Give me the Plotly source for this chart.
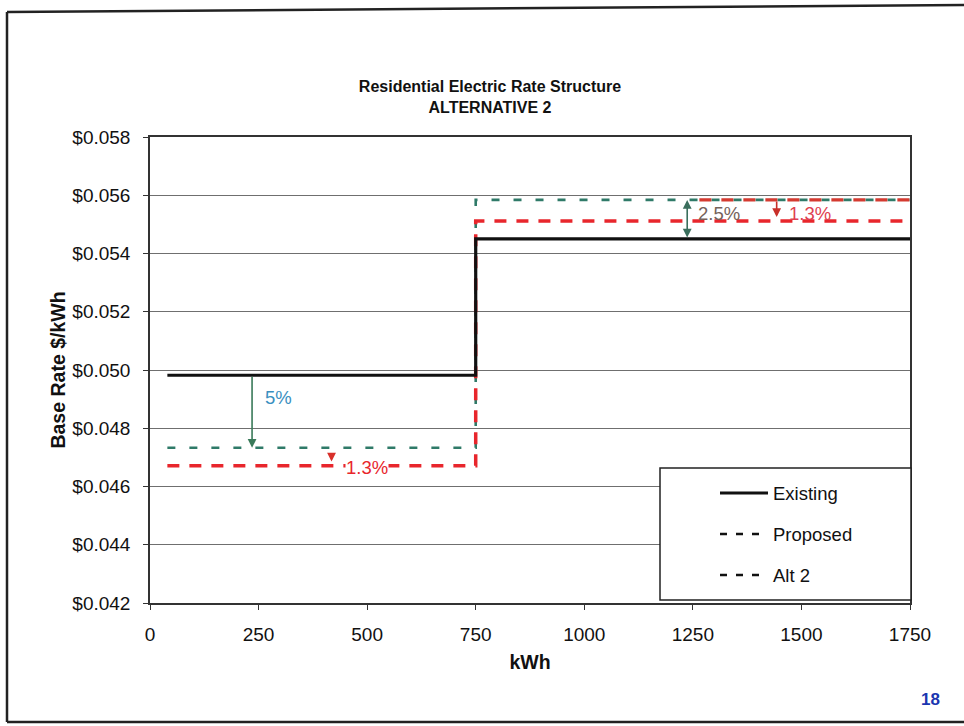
import plotly.graph_objects as go

# ---- data ----
existing_x = [40, 750, 750, 1750]
existing_y = [0.04982, 0.04982, 0.05450, 0.05450]
proposed_x = [40, 750, 750, 1750]
proposed_y = [0.04733, 0.04733, 0.05584, 0.05584]
alt2_x = [40, 750, 750, 1750]
alt2_y = [0.04671, 0.04671, 0.05512, 0.05512]
alt2_ref_x = [1265, 1750]
alt2_ref_y = [0.05584, 0.05584]

x_ticks = [0, 250, 500, 750, 1000, 1250, 1500, 1750]
y_ticks = [0.042, 0.044, 0.046, 0.048, 0.050, 0.052, 0.054, 0.056, 0.058]

legend_names = ["Existing", "Proposed", "Alt 2"]

FONT = "Liberation Sans, Arial, sans-serif"
TEAL = "#2f7a68"
RED = "#e8262c"

fig = go.Figure()
fig.add_trace(go.Scatter(x=proposed_x, y=proposed_y, mode="lines", name="Proposed",
                         line=dict(color=TEAL, width=2.6, dash="8px,14px"), showlegend=False))
fig.add_trace(go.Scatter(x=alt2_x, y=alt2_y, mode="lines", name="Alt 2",
                         line=dict(color=RED, width=3.5, dash="12px,10px"), showlegend=False))
fig.add_trace(go.Scatter(x=alt2_ref_x, y=alt2_ref_y, mode="lines", name="Alt 2 ref",
                         line=dict(color="#d43a30", width=3.2, dash="12px,10px"), showlegend=False))
fig.add_trace(go.Scatter(x=existing_x, y=existing_y, mode="lines", name="Existing",
                         line=dict(color="#111111", width=3.2), showlegend=False))

# ---- annotations (arrows + percent labels) ----
arrows = [
    dict(x=235, y=proposed_y[0], ax=235, ay=existing_y[0], color="#3a7a5a", side="end"),
    dict(x=418, y=0.04686, ax=418, ay=0.04710, color="#d8302a", side="end"),
    dict(x=1237, y=proposed_y[-1], ax=1237, ay=existing_y[-1], color="#3a6e5c", side="end+start"),
    dict(x=1443, y=0.05525, ax=1443, ay=0.05584, color="#c8302a", side="end"),
]
for a in arrows:
    fig.add_annotation(x=a["x"], y=a["y"], ax=a["ax"], ay=a["ay"], xref="x", yref="y",
                       axref="x", ayref="y", text="", showarrow=True, arrowhead=2,
                       arrowsize=1.1, arrowwidth=1.6, arrowcolor=a["color"],
                       arrowside=a["side"], standoff=0, startstandoff=0)

labels = [
    dict(x=262, y=0.04907, text="5%", color="#3a8fc0", bg="rgba(0,0,0,0)"),
    dict(x=450, y=0.04666, text="1.3%", color="#e8262c", bg="white"),
    dict(x=1260, y=0.05539, text="2.5%", color="#75625a", bg="rgba(0,0,0,0)"),
    dict(x=1468, y=0.05539, text="1.3%", color="#e04050", bg="rgba(0,0,0,0)"),
]
for l in labels:
    fig.add_annotation(x=l["x"], y=l["y"], xref="x", yref="y", text=l["text"],
                       showarrow=False, xanchor="left", yanchor="middle", bgcolor=l["bg"],
                       borderpad=0,
                       font=dict(family=FONT, size=18.5, color=l["color"]))

# ---- manual legend ----
def px_x(px):
    return (px - 150) / 760

def px_y(py):
    return (603 - py) / 466

fig.add_shape(type="rect", xref="paper", yref="paper",
              x0=px_x(660), x1=px_x(911), y0=px_y(600), y1=px_y(468),
              line=dict(color="#222222", width=1.5), fillcolor="white", layer="above")
leg_rows = [493, 534, 575]
leg_dash = ["solid", "7px,9px", "7px,9px"]
leg_width = [3, 2.5, 2.5]
for name, row, dsh, w in zip(legend_names, leg_rows, leg_dash, leg_width):
    fig.add_shape(type="line", xref="paper", yref="paper",
                  x0=px_x(720), x1=px_x(768), y0=px_y(row), y1=px_y(row),
                  line=dict(color="#111111", width=w, dash=dsh), layer="above")
    fig.add_annotation(x=px_x(771), y=px_y(row), xref="paper", yref="paper",
                       text=name, showarrow=False, xanchor="left", yanchor="middle",
                       font=dict(family=FONT, size=18.5, color="#111111"))

# ---- page frame ----
frame = dict(color="#222222", width=2.5)
fig.add_shape(type="line", xref="paper", yref="paper", x0=px_x(7), x1=px_x(7),
              y0=px_y(12), y1=px_y(722), line=frame)
fig.add_shape(type="line", xref="paper", yref="paper", x0=px_x(7), x1=px_x(964),
              y0=px_y(12), y1=px_y(5), line=frame)
fig.add_shape(type="line", xref="paper", yref="paper", x0=px_x(7), x1=px_x(964),
              y0=px_y(722), y1=px_y(722), line=frame)

# page number
fig.add_annotation(x=px_x(930), y=px_y(700), xref="paper", yref="paper", text="<b>18</b>",
                   showarrow=False, xanchor="center", yanchor="middle",
                   font=dict(family=FONT, size=17, color="#1a36b0"))

fig.update_layout(
    width=964, height=726,
    margin=dict(l=150, r=54, t=137, b=123),
    paper_bgcolor="white", plot_bgcolor="white",
    title=dict(text="<b>Residential Electric Rate Structure<br>ALTERNATIVE 2</b>",
               x=490 / 964, xref="container", xanchor="center",
               y=1 - 92 / 726, yref="container", yanchor="middle",
               font=dict(family=FONT, size=16, color="#111111")),
    font=dict(family=FONT, color="#111111"),
    showlegend=False,
)
fig.update_xaxes(range=[0, 1750], tickvals=x_ticks, ticktext=[str(v) for v in x_ticks],
                 showgrid=False, zeroline=False, showline=True, linecolor="#333333",
                 linewidth=1.5, mirror=True, ticks="outside", ticklen=5, tickcolor="#333333",
                 ticklabelstandoff=8,
                 tickfont=dict(family=FONT, size=19, color="#111111"),
                 title=dict(text="<b>kWh</b>", standoff=12,
                            font=dict(family=FONT, size=19.5, color="#111111")))
fig.update_yaxes(range=[0.042, 0.058], tickvals=y_ticks,
                 ticktext=["$%.3f" % v for v in y_ticks],
                 showgrid=True, gridcolor="#6f6f6f", gridwidth=1, zeroline=False,
                 showline=True, linecolor="#333333", linewidth=1.5, mirror=True,
                 ticks="outside", ticklen=5, tickcolor="#333333",
                 ticklabelstandoff=9,
                 tickfont=dict(family=FONT, size=19, color="#111111"),
                 title=dict(text="<b>Base Rate $/kWh</b>", standoff=2,
                            font=dict(family=FONT, size=19.5, color="#111111")))

fig.write_html("out.html")
